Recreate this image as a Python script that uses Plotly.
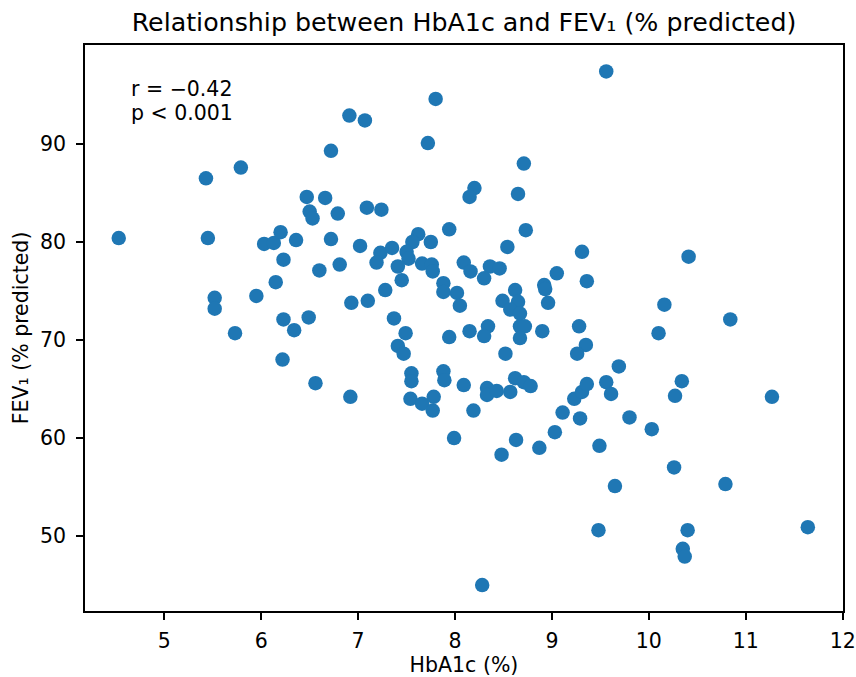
import plotly.graph_objects as go

hba1c = [
    4.53, 5.43, 5.45, 5.52, 5.52, 5.79, 5.73, 5.95, 6.03, 6.13, 6.20, 6.23, 6.15, 6.36, 6.23, 6.22, 6.34,
    6.47, 6.50, 6.53, 6.60, 6.49, 6.56, 6.66, 6.72, 6.72, 6.79, 6.81, 6.91, 6.93, 6.92, 7.07, 7.02, 7.09,
    7.10, 7.24, 7.23, 7.19, 7.28,
    9.56, 7.80, 7.72, 8.71, 8.20, 8.15, 8.65, 7.94, 8.73, 7.62, 7.56, 7.75, 7.35, 8.54, 9.31, 7.50, 7.52,
    7.41, 7.66, 7.76, 7.77, 8.09, 8.16, 8.36, 8.46, 8.30, 9.05, 9.36, 7.45, 7.88, 7.88, 8.02, 8.05, 8.62,
    8.49, 8.65, 8.57, 8.67, 8.92, 8.93, 8.96, 7.37,
    8.67, 8.72, 8.67, 8.90, 8.52, 8.34, 8.30, 8.15, 7.94, 7.49, 7.41, 7.47, 9.28, 9.35, 9.26, 9.69,
    7.55, 7.55, 7.88, 7.89, 8.09, 8.33, 8.33, 8.43, 8.57, 8.62, 8.71, 8.78, 7.54, 7.66, 7.78, 7.77, 8.19,
    7.99, 8.63, 8.48, 8.87, 9.03, 9.11, 9.29, 9.49, 9.65, 9.48, 8.28, 9.23, 9.31, 9.36, 9.56, 9.61, 9.80,
    10.41, 10.16, 10.84, 10.10, 10.34, 10.27, 11.27, 10.03, 10.26, 10.79, 11.64, 10.40, 10.35, 10.37,
]

fev1 = [
    80.4, 86.5, 80.4, 74.3, 73.2, 87.6, 70.7, 74.5, 79.8, 79.9, 81.0, 78.2, 75.9, 80.2, 72.1, 68.0, 71.0,
    84.6, 83.1, 82.4, 77.1, 72.3, 65.6, 84.5, 89.3, 80.3, 82.9, 77.7, 92.9, 73.8, 64.2, 92.4, 79.6, 83.5,
    74.0, 83.3, 78.9, 77.9, 75.1,
    97.4, 94.6, 90.1, 88.0, 85.5, 84.6, 84.9, 81.3, 81.2, 80.8, 80.0, 80.0, 79.4, 79.5, 79.0, 79.0, 78.3,
    77.5, 77.8, 77.7, 77.0, 77.9, 77.0, 77.5, 77.3, 76.3, 76.8, 76.0, 76.1, 75.8, 74.9, 74.8, 73.5, 75.1,
    74.0, 73.9, 73.1, 72.7, 75.6, 75.2, 73.8, 72.2,
    71.4, 71.4, 70.2, 70.9, 68.6, 71.4, 70.4, 70.9, 70.3, 70.7, 69.4, 68.6, 71.4, 69.5, 68.6, 67.3,
    66.6, 65.8, 66.8, 65.9, 65.4, 65.1, 64.4, 64.8, 64.7, 66.1, 65.7, 65.3, 64.0, 63.5, 64.2, 62.8, 62.8,
    60.0, 59.8, 58.3, 59.0, 60.6, 62.6, 62.0, 59.2, 55.1, 50.6, 45.0, 64.0, 64.7, 65.5, 65.7, 64.5, 62.1,
    78.5, 73.6, 72.1, 70.7, 65.8, 64.3, 64.2, 60.9, 57.0, 55.3, 50.9, 50.6, 48.7, 47.9,
]

x_ticks = [5, 6, 7, 8, 9, 10, 11, 12]
y_ticks = [50, 60, 70, 80, 90]
stats_lines = ["r = \u22120.42", "p < 0.001"]

FONT = "DejaVu Sans"

fig = go.Figure()
fig.add_trace(go.Scatter(
    x=hba1c, y=fev1, mode="markers",
    marker=dict(size=14.5, color="#1f77b4", line=dict(width=0)),
    showlegend=False, hoverinfo="x+y",
))

axis_common = dict(
    showgrid=False, zeroline=False, showline=True, linecolor="black", linewidth=1.6,
    mirror=True, ticks="outside", ticklen=7, tickwidth=1.6, tickcolor="black",
    tickfont=dict(family=FONT, size=20.5, color="black"), automargin=False,
)

fig.update_layout(
    width=856, height=677,
    margin=dict(l=85, r=13, t=45, b=66),
    paper_bgcolor="white", plot_bgcolor="white",
    font=dict(family=FONT, color="black"),
    title=dict(
        text="Relationship between HbA1c and FEV\u2081 (% predicted)",
        x=0.5 * (85 + 843) / 856, xanchor="center",
        y=1 - 22 / 677, yanchor="middle", yref="container",
        font=dict(family=FONT, size=25.3, color="black"),
    ),
    xaxis=dict(
        range=[4.182, 12.003], tickvals=x_ticks, ticktext=[str(v) for v in x_ticks],
        title=dict(text="HbA1c (%)", font=dict(family=FONT, size=20.5, color="black"), standoff=8),
        ticklabelstandoff=4,
        **axis_common,
    ),
    yaxis=dict(
        range=[42.35, 100.1], tickvals=y_ticks, ticktext=[str(v) for v in y_ticks],
        title=dict(text="FEV\u2081 (% predicted)", font=dict(family=FONT, size=20.5, color="black"), standoff=6),
        ticklabelstandoff=6,
        **axis_common,
    ),
)

for i, line in enumerate(stats_lines):
    fig.add_annotation(
        text=line, xref="paper", yref="paper",
        x=(129 - 85) / 758, y=1 - (89 + 24 * i - 45) / 566,
        xanchor="left", yanchor="middle", showarrow=False,
        font=dict(family=FONT, size=20.5, color="black"),
    )

fig.write_html(
    "out.html",
    config={"displayModeBar": False},
    post_script="document.body.style.margin='0';document.body.style.padding='0';",
)
